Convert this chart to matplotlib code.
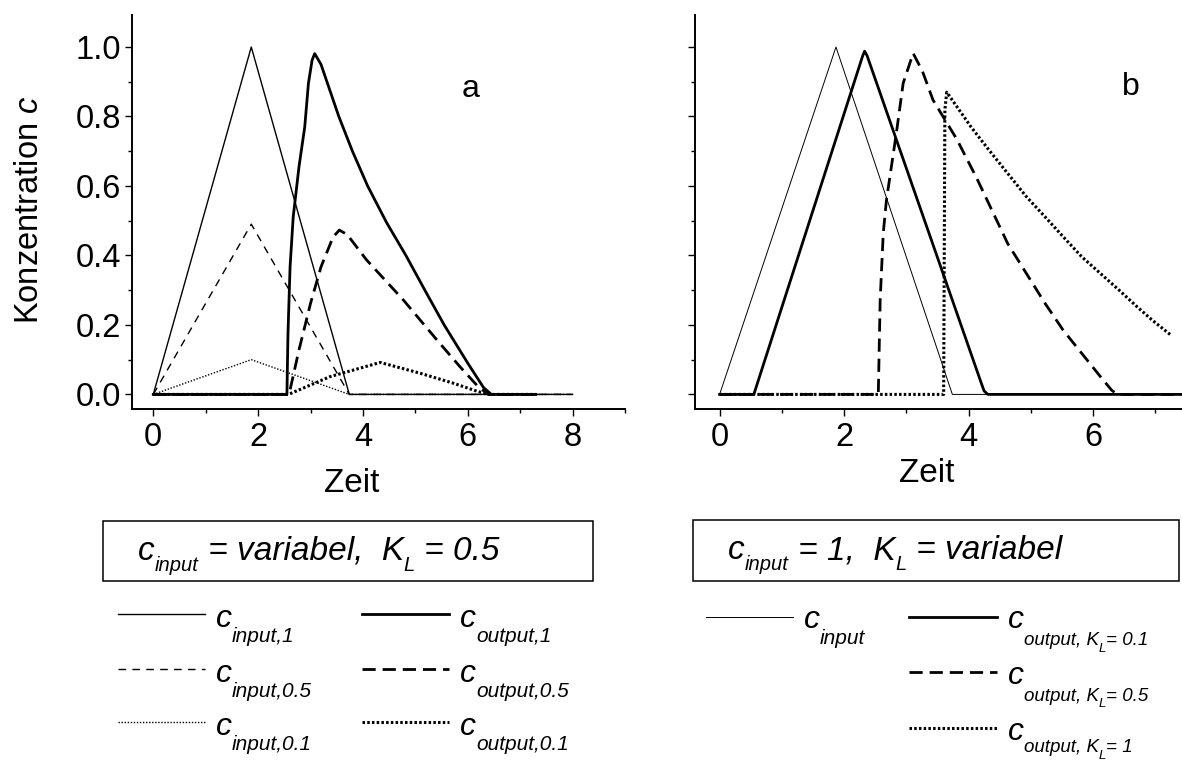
import matplotlib
matplotlib.use("Agg")
import matplotlib.pyplot as plt
from matplotlib.lines import Line2D
from matplotlib.patches import Rectangle
from matplotlib.ticker import MultipleLocator, FormatStrFormatter

plt.rcParams['font.family'] = 'Liberation Sans'
plt.rcParams['mathtext.fontset'] = 'custom'
plt.rcParams['mathtext.it'] = 'Liberation Sans:italic'
plt.rcParams['mathtext.rm'] = 'Liberation Sans'
plt.rcParams['lines.scale_dashes'] = False

#####DATA#####

# panel a: variable input concentration, K_L = 0.5
t_in_a = [0, 1.87, 3.74, 8.0]
c_in_1 = [0, 1.0, 0, 0]
c_in_05 = [0, 0.49, 0, 0]
c_in_01 = [0, 0.10, 0, 0]

t_out1_a = [0, 2.55, 2.57, 2.61, 2.67, 2.78, 2.89, 2.96, 3.03, 3.08, 3.20, 3.54,
            3.80, 4.09, 4.45, 4.82, 5.20, 5.55, 6.00, 6.30, 6.45, 7.3]
c_out_1 = [0, 0, 0.175, 0.367, 0.511, 0.655, 0.77, 0.895, 0.962, 0.981, 0.95, 0.80,
           0.70, 0.60, 0.495, 0.40, 0.295, 0.20, 0.09, 0.02, 0, 0]

t_out05_a = [0, 2.59, 2.65, 2.78, 3.00, 3.20, 3.43, 3.55, 3.70, 4.07, 4.77, 5.41,
             5.85, 6.20, 6.40, 7.3]
c_out_05 = [0, 0, 0.04, 0.128, 0.262, 0.367, 0.453, 0.473, 0.46, 0.387, 0.272, 0.157,
            0.08, 0.022, 0, 0]

t_out01_a = [0, 2.58, 3.37, 4.33, 5.09, 5.73, 6.20, 6.40, 7.3]
c_out_01 = [0, 0, 0.051, 0.092, 0.061, 0.032, 0.008, 0, 0]

# panel b: c_input = 1, variable K_L
t_in_b = [0, 1.87, 3.74, 7.43]
c_in_b = [0, 1.0, 0, 0]

t_k01 = [0, 0.55, 2.30, 2.33, 2.37, 4.20, 4.25, 4.31, 7.43]
c_k01 = [0, 0, 0.975, 0.988, 0.975, 0.035, 0.01, 0, 0]

t_k05 = [0, 2.55, 2.58, 2.63, 2.68, 2.84, 2.95, 3.11, 3.26, 3.43, 3.81, 4.13, 4.63,
         4.93, 5.23, 5.52, 5.82, 6.12, 6.30, 6.39, 7.43]
c_k05 = [0, 0, 0.271, 0.465, 0.558, 0.752, 0.896, 0.982, 0.93, 0.847, 0.735, 0.623,
         0.434, 0.348, 0.262, 0.185, 0.118, 0.051, 0.012, 0, 0]

t_k1 = [0, 3.60, 3.62, 3.65, 4.04, 4.33, 4.63, 4.93, 5.23, 5.52, 5.82, 6.12, 6.42,
        6.71, 6.95, 7.25]
c_k1 = [0, 0, 0.82, 0.87, 0.77, 0.703, 0.636, 0.569, 0.511, 0.454, 0.396, 0.348,
        0.30, 0.252, 0.214, 0.171]

#####STYLES#####
thin_solid = dict(color='k', lw=1.0)
thin_dash = dict(color='k', lw=1.0, dashes=(5.5, 4.5))
thin_dot = dict(color='k', lw=1.0, dashes=(1.0, 1.2))
hair_solid = dict(color='k', lw=0.7)
thick_solid = dict(color='k', lw=2.0)
thick_dash = dict(color='k', lw=2.0, dashes=(9.5, 5.0))
thick_dot = dict(color='k', lw=2.2, dashes=(1.8, 1.6))

W, H = 1182, 760
fig = plt.figure(figsize=(W / 100, H / 100), dpi=100)
renderer = fig.canvas.get_renderer()


def px(x, y):
    # pixel position from top left -> figure fraction
    return x / W, 1 - y / H


def setup_axis(ax, xmax, labels):
    ax.set_xlim(-0.4, xmax)
    ax.set_ylim(-0.042, 1.093)
    ax.spines['top'].set_visible(False)
    ax.spines['right'].set_visible(False)
    for s in ['left', 'bottom']:
        ax.spines[s].set_linewidth(1.4)
    ax.xaxis.set_major_locator(MultipleLocator(2))
    ax.xaxis.set_minor_locator(MultipleLocator(1))
    ax.yaxis.set_major_locator(MultipleLocator(0.2))
    ax.yaxis.set_minor_locator(MultipleLocator(0.1))
    ax.yaxis.set_major_formatter(FormatStrFormatter('%.1f'))
    ax.tick_params(which='both', direction='out', width=1.0, labelsize=23.5)
    ax.tick_params(which='major', length=5)
    ax.tick_params(which='minor', length=3.2)
    ax.tick_params(axis='x', pad=4)
    ax.tick_params(axis='y', pad=3, labelleft=labels)


ax_a = fig.add_axes([132.3 / W, (H - 409) / H, (625 - 132.3) / W, (409 - 14.7) / H])
ax_b = fig.add_axes([694.7 / W, (H - 409) / H, (W - 694.7) / W, (409 - 14.7) / H])
setup_axis(ax_a, 9.0, True)
setup_axis(ax_b, 7.43, False)

ax_a.plot(t_in_a, c_in_1, **thin_solid)
ax_a.plot(t_in_a, c_in_05, **thin_dash)
ax_a.plot(t_in_a, c_in_01, **thin_dot)
ax_a.plot(t_out1_a, c_out_1, **thick_solid)
ax_a.plot(t_out05_a, c_out_05, **thick_dash)
ax_a.plot(t_out01_a, c_out_01, **thick_dot)
ax_a.text(6.05, 0.88, 'a', fontsize=23, ha='center', va='center')

ax_b.plot(t_in_b, c_in_b, **hair_solid)
ax_b.plot(t_k01, c_k01, **thick_solid)
ax_b.plot(t_k05, c_k05, **thick_dash)
ax_b.plot(t_k1, c_k1, **thick_dot)
ax_b.text(6.6, 0.885, 'b', fontsize=23, ha='center', va='center')

fig.text(*px(351.7, 491.7), 'Zeit', fontsize=24, ha='center', va='baseline')
fig.text(*px(926.7, 482.3), 'Zeit', fontsize=24, ha='center', va='baseline')
fig.text(*px(30, 210), 'Konzentration $c$', fontsize=23.5, rotation=90,
         ha='center', va='center')


def rich(x, y, parts):
    # parts: (text, fontsize, drop in px below the main baseline)
    for txt, size, drop in parts:
        t = fig.text(*px(x, y + drop), txt, fontsize=size, style='italic',
                     ha='left', va='baseline')
        x = t.get_window_extent(renderer).x1


def key_line(x0, x1, y, style):
    fig.add_artist(Line2D([x0 / W, x1 / W], [1 - y / H, 1 - y / H],
                          transform=fig.transFigure, **style))


def box(x0, y0, x1, y1):
    fig.add_artist(Rectangle(px(x0, y1), (x1 - x0) / W, (y1 - y0) / H,
                             transform=fig.transFigure, fill=False,
                             lw=1.1, ec='k'))


# legend block a
box(103.3, 521, 593.3, 581)
rich(138, 560, [('c', 24, 0), ('input', 14.5, 11), (' = variabel,  K', 24, 0),
                ('L', 14.5, 11), (' = 0.5', 24, 0)])
rows_a = [614.3, 669, 722.3]
left_a = [('input,1', thin_solid), ('input,0.5', thin_dash), ('input,0.1', thin_dot)]
right_a = [('output,1', thick_solid), ('output,0.5', thick_dash),
           ('output,0.1', thick_dot)]
for y, (sub1, st1), (sub2, st2) in zip(rows_a, left_a, right_a):
    key_line(118.3, 205, y, st1)
    rich(216, y + 12.5, [('c', 23, 0), (sub1, 15, 15.6)])
    key_line(361.7, 449.3, y, st2)
    rich(460, y + 12.5, [('c', 23, 0), (sub2, 15, 15.6)])

# legend block b
box(693.3, 520, 1179, 580.7)
rich(728, 559.3, [('c', 24, 0), ('input', 14.5, 11), (' = 1,  K', 24, 0),
                  ('L', 14.5, 11), (' = variabel', 24, 0)])
key_line(706, 792.7, 616.7, hair_solid)
rich(804, 616.7 + 11.7, [('c', 23, 0), ('input', 15, 15.6)])
rows_b = [616.7, 672.3, 728.3]
drops_b = [16.7, 16.7, 12.5]
kl_vals = ['= 0.1', '= 0.5', '= 1']
styles_b = [thick_solid, thick_dash, thick_dot]
for y, d, kv, st in zip(rows_b, drops_b, kl_vals, styles_b):
    key_line(909.3, 996.7, y, st)
    rich(1008, y + 11.7, [('c', 23, 0), ('output, K', 13.5, d),
                          ('L', 9.5, d + 6.5), (kv, 13.5, d)])

fig.savefig('out.png', dpi=100)
